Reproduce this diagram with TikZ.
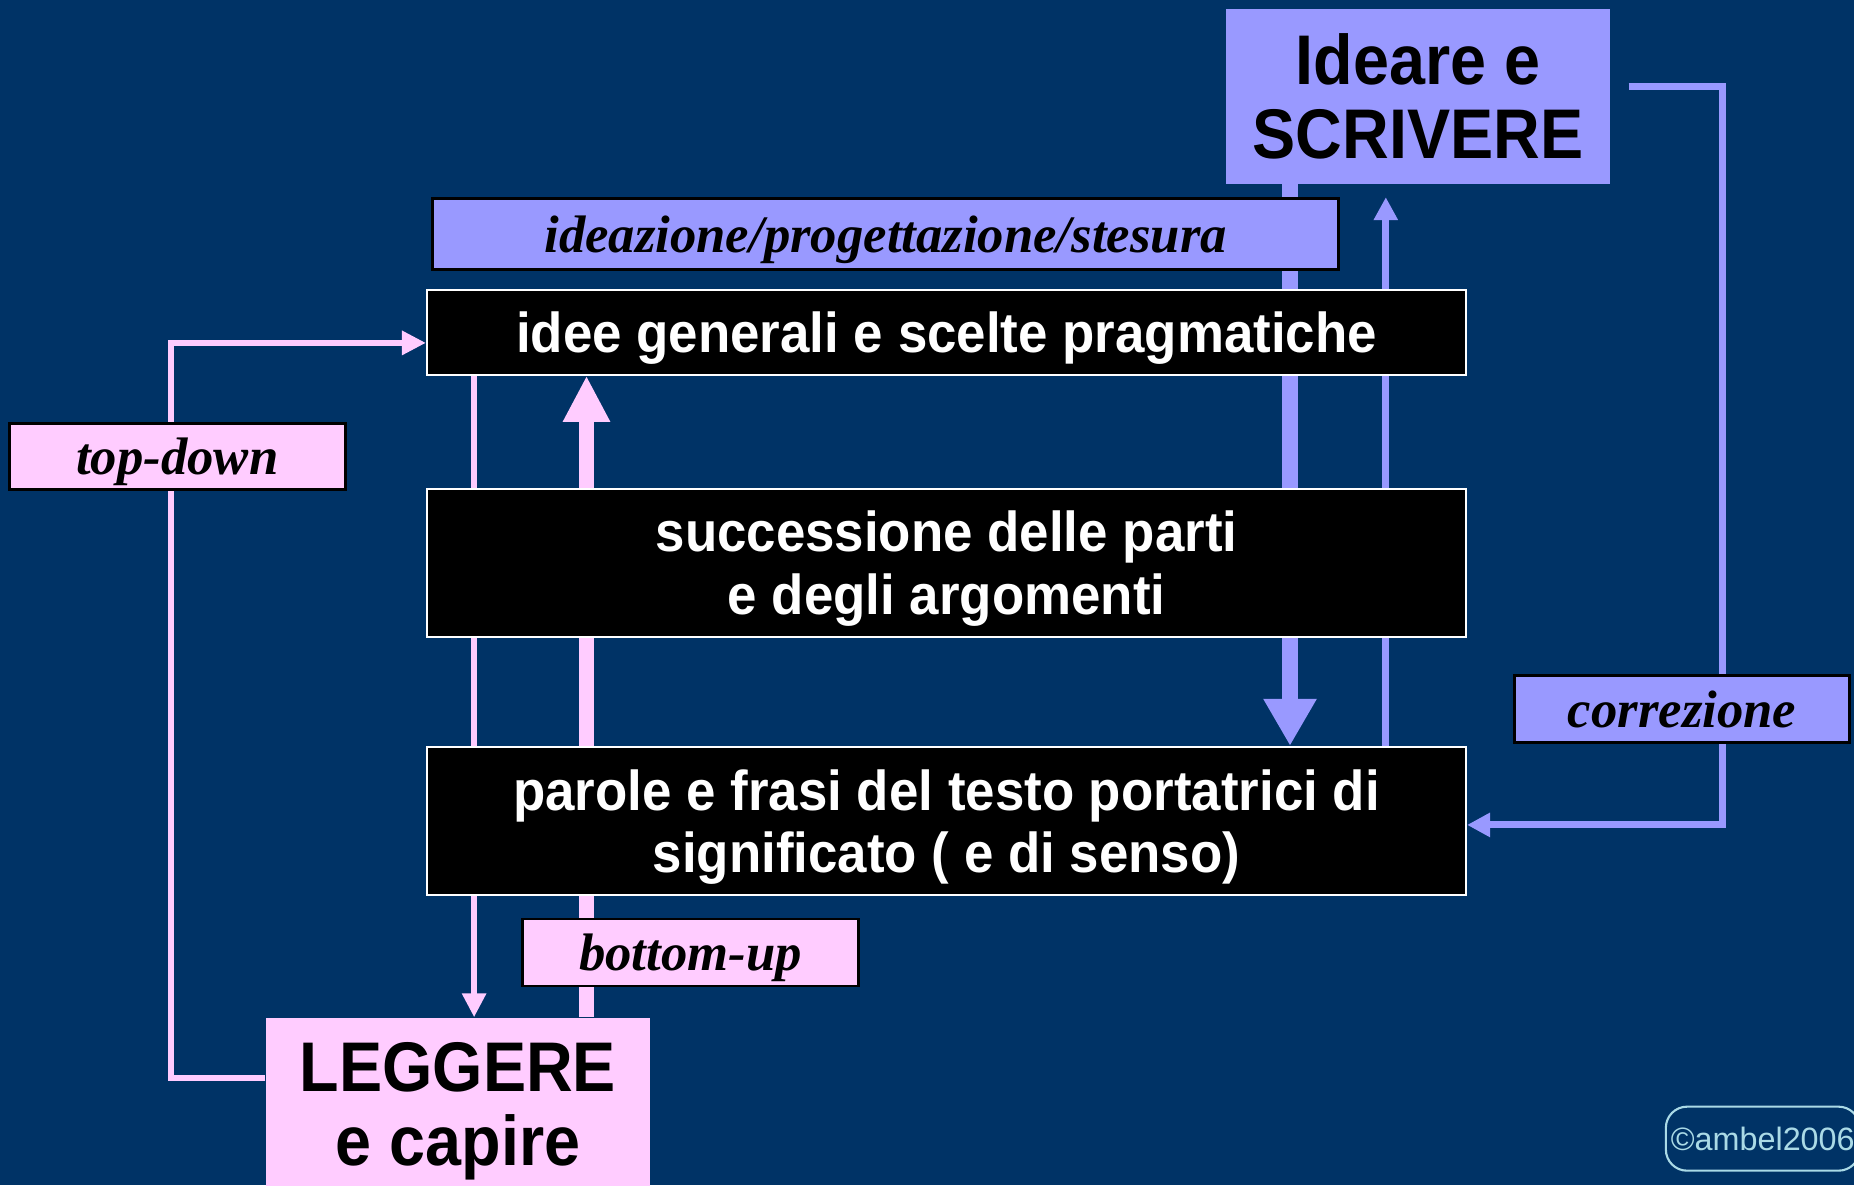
\documentclass[tikz,border=0pt]{standalone}
\usepackage{fontspec}
\setmainfont{Liberation Serif}
\newfontfamily\arialf[FakeStretch=0.94]{Liberation Sans}
\newfontfamily\arialg[FakeStretch=0.92]{Liberation Sans}
\newfontfamily\firmaf{Liberation Sans}
\usepackage{tikz}
\usetikzlibrary{positioning,arrows.meta}
\definecolor{fondo}{RGB}{0,51,102}
\definecolor{lilla}{RGB}{153,153,255}
\definecolor{rosa}{RGB}{255,204,255}
\definecolor{ciano}{RGB}{170,218,230}
\pgfdeclarelayer{sfondo}
\pgfdeclarelayer{frecce}
\pgfsetlayers{sfondo,frecce,main}
\tikzset{
  nero/.style={rectangle, draw=white, line width=0.6pt, fill=black, text=white, align=center, minimum width=10.39cm, inner sep=2pt, text depth=0pt, font=\arialf\bfseries\fontsize{16}{17.8}\selectfont},
  grande/.style={rectangle, text=black, align=center, minimum width=3.84cm, inner sep=2pt, font=\arialg\bfseries\fontsize{20}{21}\selectfont},
  etich/.style={rectangle, draw=black, line width=0.8pt, text=black, inner sep=2pt, text depth=0pt, font=\bfseries\itshape\fontsize{15}{18}\selectfont},
  firma/.style={rectangle, rounded corners=6pt, draw=ciano, line width=0.6pt, text=ciano, inner xsep=0.05cm, font=\firmaf\fontsize{9.2}{11}\selectfont},
  rosasottile/.style={draw=rosa, line width=1.7pt, -{Triangle[width=0.23cm,length=0.24cm]}},
  rosaspessa/.style={draw=rosa, line width=4.1pt, -{Triangle[width=0.44cm,length=0.46cm]}},
  lillasottile/.style={draw=lilla, line width=2pt, -{Triangle[width=0.23cm,length=0.23cm]}},
  lillaspessa/.style={draw=lilla, line width=4.8pt, -{Triangle[width=0.5cm,length=0.47cm]}},
}
\begin{document}
\begin{tikzpicture}
    \useasboundingbox (0,0) rectangle (18.54,11.85);
    \begin{pgfonlayer}{sfondo}
      \fill[fondo] (0,0) rectangle (18.54,11.85);
    \end{pgfonlayer}

    \node[grande, fill=lilla, minimum height=1.75cm] (scrivere) at (14.18,10.89) {Ideare e\\SCRIVERE};
    \node[etich, fill=lilla, minimum width=9.06cm, minimum height=0.71cm] (ideaz) at (8.856,9.509) {ideazione/progettazione/stesura};

    \node[nero, minimum height=0.85cm] (idee) at (9.465,8.528) {idee generali e scelte pragmatiche};
    \node[nero, minimum height=1.48cm, below=1.12cm of idee] (succ) {successione delle parti\\e degli argomenti};
    \node[nero, minimum height=1.48cm, below=1.08cm of succ] (parole) {parole e frasi del testo portatrici di\\significato ( e di senso)};

    \node[etich, fill=rosa, minimum width=3.36cm, minimum height=0.66cm] (topdown) at (1.774,7.286) {top-down};
    \node[etich, fill=rosa, minimum width=3.36cm, minimum height=0.67cm] (bottomup) at (6.905,2.326) {bottom-up};
    \node[grande, fill=rosa, minimum height=1.87cm] (leggere) at (4.58,0.735) {LEGGERE\\e capire};
    \node[etich, fill=lilla, minimum width=3.35cm, minimum height=0.67cm] (corr) at (16.82,4.762) {correzione};

    \node[firma, anchor=west, minimum height=0.64cm] (ambel) at (16.648,0.4635) {©ambel2006};

    \coordinate (xrs) at (4.741,0);
    \coordinate (xrg) at (5.865,0);
    \coordinate (xlg) at (12.90,0);
    \coordinate (xls) at (13.858,0);
    \coordinate (angtd) at (1.714,8.421);
    \coordinate (angcr) at (17.228,10.987);

    \begin{pgfonlayer}{frecce}
      \path[rosasottile] (idee.south -| xrs) -- (leggere.north -| xrs);
      \path[rosaspessa] (leggere.north -| xrg) -- (idee.south -| xrg);
      \path[rosasottile] ([yshift=0.332cm]leggere.west) -| (angtd) -- (angtd -| idee.west);

      \path[lillaspessa] (scrivere.south -| xlg) -- (parole.north -| xlg);
      \path[lillasottile] (parole.north -| xls) -- (ideaz.north -| xls);
      \path[lillasottile] ([xshift=0.18cm,yshift=0.097cm]scrivere.east) -| (angcr) |- ([yshift=-0.04cm]parole.east);
    \end{pgfonlayer}
\end{tikzpicture}
\end{document}
